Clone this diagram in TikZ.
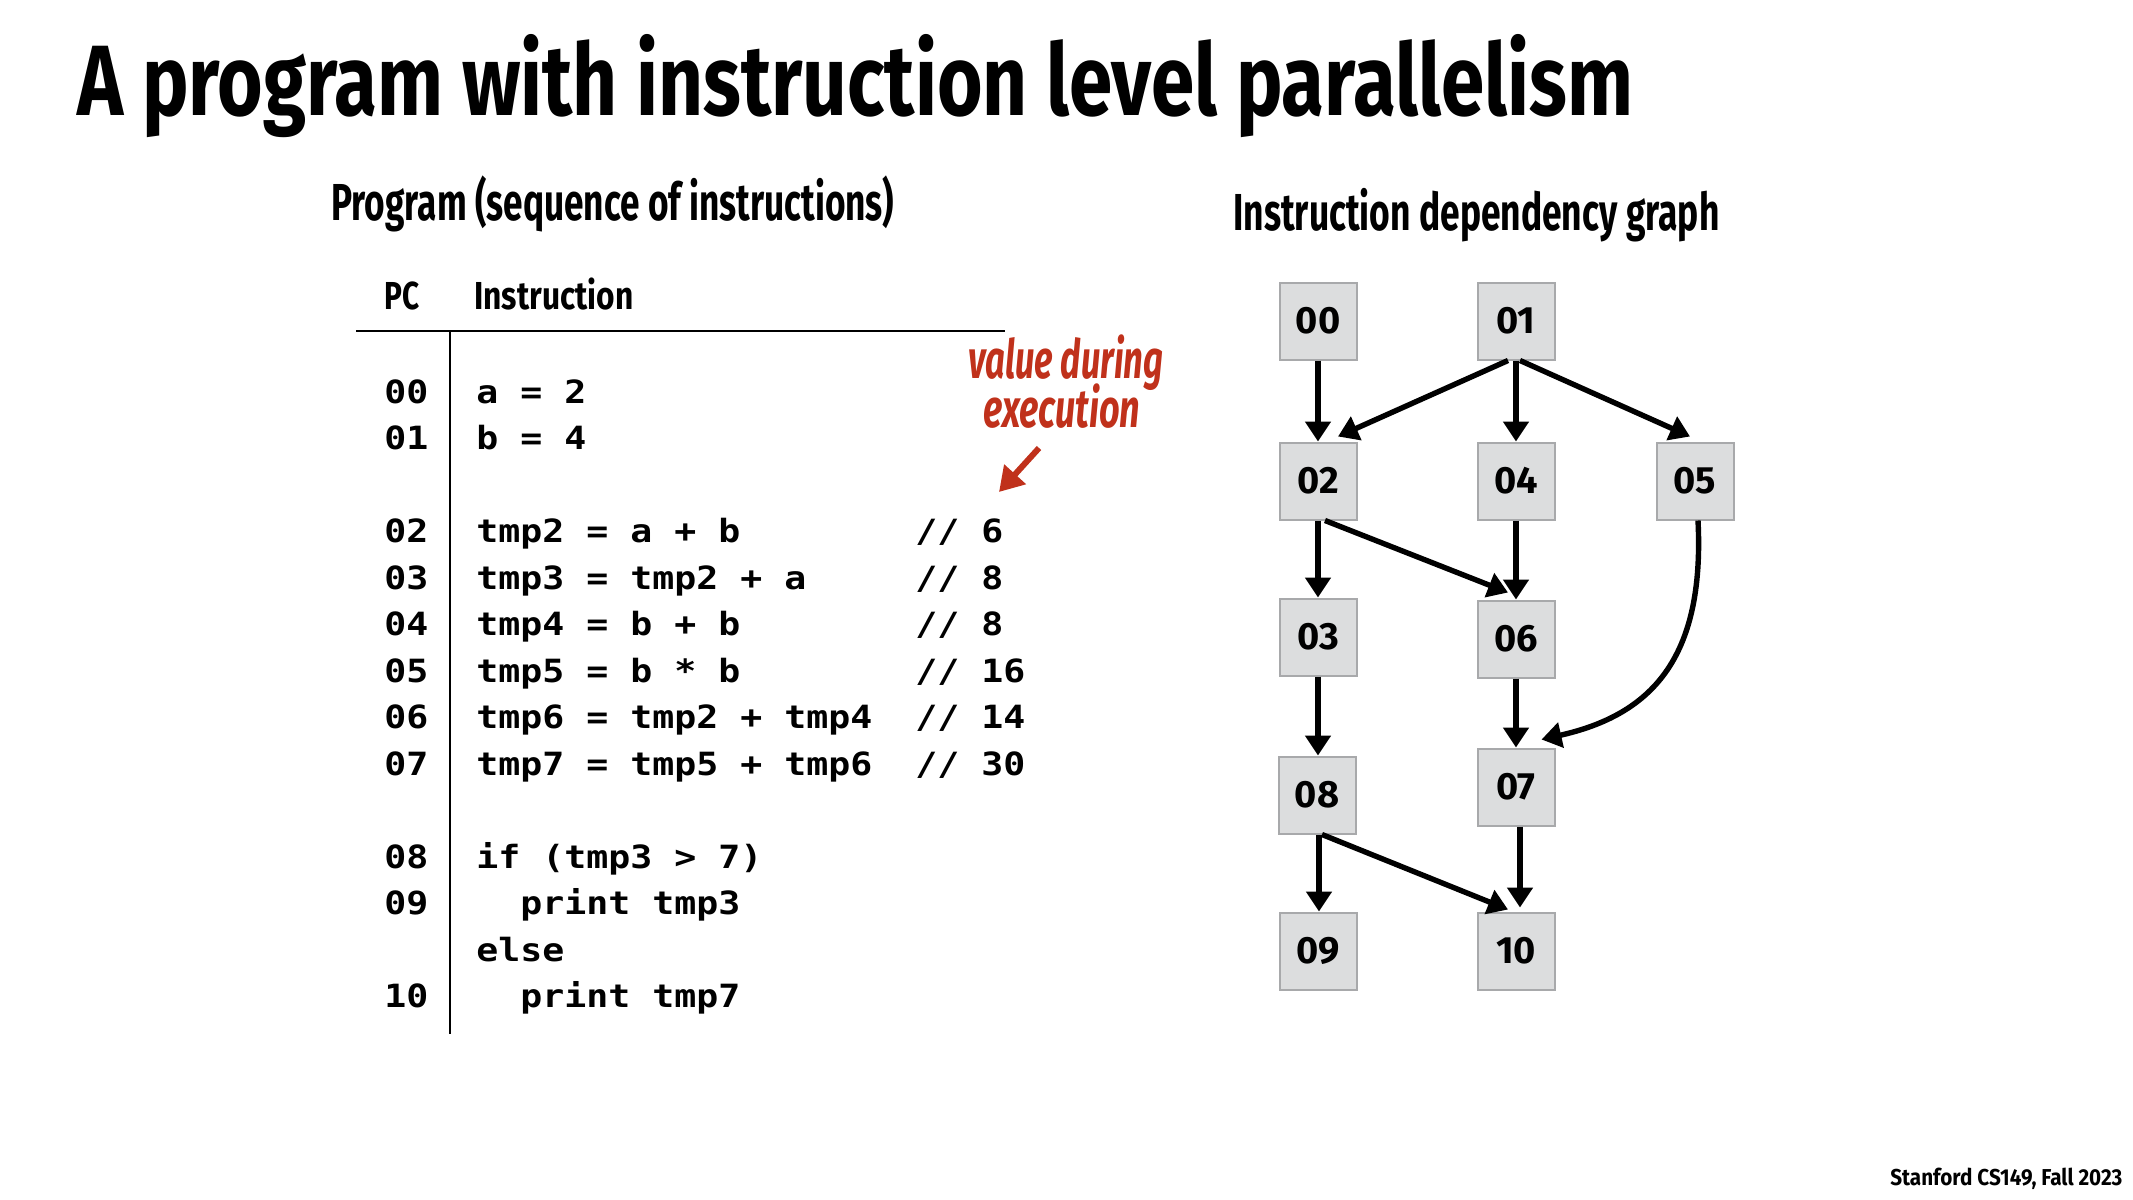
\documentclass[tikz,border=0pt]{standalone}
\usepackage{fontspec}
\usepackage{graphicx}
\usetikzlibrary{arrows.meta}
\setmainfont{Fira Sans}
\newfontfamily\codefont[FakeStretch=1.142]{DejaVu Sans Mono}
\definecolor{nodefill}{RGB}{220,221,222}
\definecolor{nodeedge}{RGB}{168,169,171}
\definecolor{annred}{RGB}{192,49,27}
\newcommand{\fitw}[2]{\resizebox{#1}{\height}{#2}}
\begin{document}
\begin{tikzpicture}[x=0.5pt,y=-0.5pt,
  txt/.style={inner sep=0pt, anchor=base west},
  code/.style={txt, font=\codefont\bfseries\fontsize{16pt}{16pt}\selectfont},
  gnode/.style={draw=nodeedge, fill=nodefill, line width=1pt, minimum width=38.5pt, minimum height=38.5pt, inner sep=0pt, font=\bfseries\fontsize{19pt}{19pt}\selectfont},
  edge/.style={line width=2.7pt, -{Triangle[width=12.5pt,length=10pt]}},
]
\useasboundingbox[fill=white] (0,0) rectangle (2133,1200);

% titles
\node[txt] (title) at (77,115) {\fitw{778pt}{\bfseries\fontsize{50pt}{50pt}\selectfont A program with instruction level parallelism}};
\node[txt] (sub1) at (331,220) {\fitw{281.5pt}{\bfseries\fontsize{26pt}{26pt}\selectfont Program (sequence of instructions)}};
\node[txt] (sub2) at (1233,230) {\fitw{243pt}{\bfseries\fontsize{26pt}{26pt}\selectfont Instruction dependency graph}};
\node[txt] (hpc) at (384,309) {\fitw{17.5pt}{\bfseries\fontsize{19.5pt}{19.5pt}\selectfont PC}};
\node[txt] (hins) at (474,309) {\fitw{79.5pt}{\bfseries\fontsize{19.5pt}{19.5pt}\selectfont Instruction}};
\node[txt] (foot) at (1890,1185) {\fitw{116pt}{\bfseries\fontsize{11.5pt}{11.5pt}\selectfont Stanford CS149, Fall 2023}};

% table lines
\coordinate (hl1) at (356,331);
\coordinate (hl2) at (1005,331);
\coordinate (vl1) at (450,331);
\coordinate (vl2) at (450,1034);
\draw[line width=1.4pt] (hl1) -- (hl2);
\draw[line width=1.4pt] (vl1) -- (vl2);

% code
\node[code] (pc00) at (384,403) {00};
\node[code] (c00) at (476,403) {a = 2};
\node[code] (pc01) at (384,449.5) {01};
\node[code] (c01) at (476,449.5) {b = 4};
\node[code] (pc02) at (384,542.5) {02};
\node[code] (c02) at (476,542.5) {tmp2 = a + b};
\node[code] (m02) at (915,542.5) {// 6};
\node[code] (pc03) at (384,589) {03};
\node[code] (c03) at (476,589) {tmp3 = tmp2 + a};
\node[code] (m03) at (915,589) {// 8};
\node[code] (pc04) at (384,635.5) {04};
\node[code] (c04) at (476,635.5) {tmp4 = b + b};
\node[code] (m04) at (915,635.5) {// 8};
\node[code] (pc05) at (384,682) {05};
\node[code] (c05) at (476,682) {tmp5 = b * b};
\node[code] (m05) at (915,682) {// 16};
\node[code] (pc06) at (384,728.5) {06};
\node[code] (c06) at (476,728.5) {tmp6 = tmp2 + tmp4};
\node[code] (m06) at (915,728.5) {// 14};
\node[code] (pc07) at (384,775) {07};
\node[code] (c07) at (476,775) {tmp7 = tmp5 + tmp6};
\node[code] (m07) at (915,775) {// 30};
\node[code] (pc08) at (384,868) {08};
\node[code] (c08) at (476,868) {if (tmp3 > 7)};
\node[code] (pc09) at (384,914.5) {09};
\node[code] (c09) at (520,914.5) {print tmp3};
\node[code] (celse) at (476,961) {else};
\node[code] (pc10) at (384,1007.5) {10};
\node[code] (c10) at (520,1007.5) {print tmp7};

% annotation
\node[txt, text=annred] (ann1) at (968,378) {\fitw{97.5pt}{\bfseries\itshape\fontsize{27pt}{27pt}\selectfont value during}};
\node[txt, text=annred] (ann2) at (983,427) {\fitw{78.5pt}{\bfseries\itshape\fontsize{27pt}{27pt}\selectfont execution}};
\coordinate (ra1) at (1039,448);
\coordinate (ra2) at (999,492);
\draw[annred, line width=3pt, -{Triangle[width=14pt,length=12pt]}] (ra1) -- (ra2);

% graph nodes
\node[gnode] (n00) at (1318,321) {00};
\node[gnode] (n01) at (1516,321) {01};
\node[gnode] (n02) at (1318,481) {02};
\node[gnode] (n04) at (1516,481) {04};
\node[gnode] (n05) at (1695,481) {05};
\node[gnode] (n03) at (1318,637) {03};
\node[gnode] (n06) at (1516,639) {06};
\node[gnode] (n08) at (1317,795) {08};
\node[gnode] (n07) at (1516,787) {07};
\node[gnode] (n09) at (1318,951) {09};
\node[gnode] (n10) at (1516,951) {10};

% edges
\draw[edge] (n00.south) -- (n02.north);
\draw[edge] ([xshift=-4pt]n01.south) -- ([xshift=10pt,yshift=2.5pt]n02.north);
\draw[edge] (n01.south) -- (n04.north);
\draw[edge] ([xshift=2pt]n01.south) -- ([xshift=-2.5pt,yshift=2.5pt]n05.north);
\draw[edge] (n02.south) -- (n03.north);
\draw[edge] ([xshift=3.5pt]n02.south) -- ([xshift=-4pt,yshift=3.5pt]n06.north);
\draw[edge] (n04.south) -- (n06.north);
\draw[edge] ([xshift=1.5pt]n05.south) .. controls (1705,660) and (1650,715) .. ([xshift=-7pt,yshift=4pt]n07.north east);
\draw[edge] (n06.south) -- (n07.north);
\draw[edge] (n03.south) -- (n03.south |- n08.north);
\draw[edge] ([xshift=1pt]n08.south) -- ([xshift=1pt]n08.south |- n09.north);
\draw[edge] ([xshift=2.5pt]n08.south) -- ([xshift=-4pt,yshift=1pt]n10.north);
\draw[edge] ([xshift=2pt]n07.south) -- ([xshift=2pt,yshift=2pt]n10.north);
\end{tikzpicture}
\end{document}
